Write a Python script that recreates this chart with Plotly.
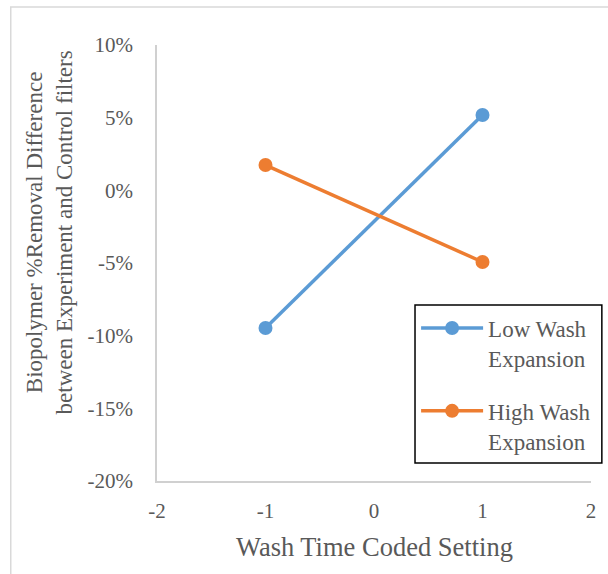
import plotly.graph_objects as go

# Wash time coded setting levels
wash_time = [-1, 1]

# Biopolymer % removal difference (fraction) for each wash expansion level
low_wash = [-0.0947, 0.0518]
high_wash = [0.0174, -0.0493]

series_names = ["Low Wash<br>Expansion", "High Wash<br>Expansion"]
colors = ["#5B9BD5", "#ED7D31"]

x_ticks = [-2, -1, 0, 1, 2]
x_tick_text = ["-2", "-1", "0", "1", "2"]
y_ticks = [0.10, 0.05, 0.0, -0.05, -0.10, -0.15, -0.20]
y_tick_text = ["10%", "5%", "0%", "-5%", "-10%", "-15%", "-20%"]

FONT = "Liberation Serif, Times New Roman, serif"
GREY = "#595959"

fig = go.Figure()
for i, (name, vals, col) in enumerate(zip(series_names, [low_wash, high_wash], colors)):
    fig.add_trace(go.Scatter(
        x=wash_time, y=vals, name=name, mode="lines+markers",
        legendgroup=f"g{i}",
        line=dict(color=col, width=3.5),
        marker=dict(color=col, size=14),
    ))

fig.update_layout(
    width=608, height=574,
    paper_bgcolor="white", plot_bgcolor="white",
    margin=dict(l=157, r=12, t=45, b=93),
    font=dict(family=FONT, size=21, color=GREY),
    showlegend=True,
    legend=dict(
        x=0.597, y=0.400, xanchor="left", yanchor="top",
        borderwidth=0, bgcolor="rgba(255,255,255,0)",
        font=dict(family=FONT, size=23, color=GREY),
        valign="top", tracegroupgap=20,
        itemwidth=62,
    ),
    xaxis=dict(
        range=[-2, 2], tickvals=x_ticks, ticktext=x_tick_text,
        showgrid=False, zeroline=False,
        showline=True, linecolor="#d0d0d0", linewidth=1.5,
        ticks="outside", ticklen=10, tickcolor="rgba(0,0,0,0)",
        tickfont=dict(family=FONT, size=21, color=GREY),
    ),
    yaxis=dict(
        range=[-0.20, 0.10], tickvals=y_ticks, ticktext=y_tick_text,
        showgrid=False, zeroline=False,
        showline=True, linecolor="#d0d0d0", linewidth=1.5,
        ticks="outside", ticklen=18, tickcolor="rgba(0,0,0,0)",
        tickfont=dict(family=FONT, size=21, color=GREY),
    ),
    annotations=[
        dict(text="Wash Time Coded Setting", xref="paper", yref="paper",
             x=0.5, y=-0.152, xanchor="center", yanchor="middle",
             showarrow=False, font=dict(family=FONT, size=26.5, color=GREY)),
        dict(text="Biopolymer %Removal Difference<br>between Experiment and Control filters",
             xref="paper", yref="paper", x=-0.248, y=0.571,
             xanchor="center", yanchor="middle", textangle=-90,
             showarrow=False, font=dict(family=FONT, size=23, color=GREY)),
    ],
    shapes=[
        # outer chart frame
        dict(type="rect", xref="paper", yref="paper",
             x0=-0.337, x1=1.2, y0=-0.4, y1=1.087,
             line=dict(color="#d9d9d9", width=1.5), layer="below"),
        # legend box
        dict(type="rect", xref="paper", yref="paper",
             x0=0.5945, x1=1.025, y0=0.0413, y1=0.4037,
             fillcolor="white", line=dict(color="black", width=1.5),
             layer="above"),
    ],
)

fig.write_html("out.html")
